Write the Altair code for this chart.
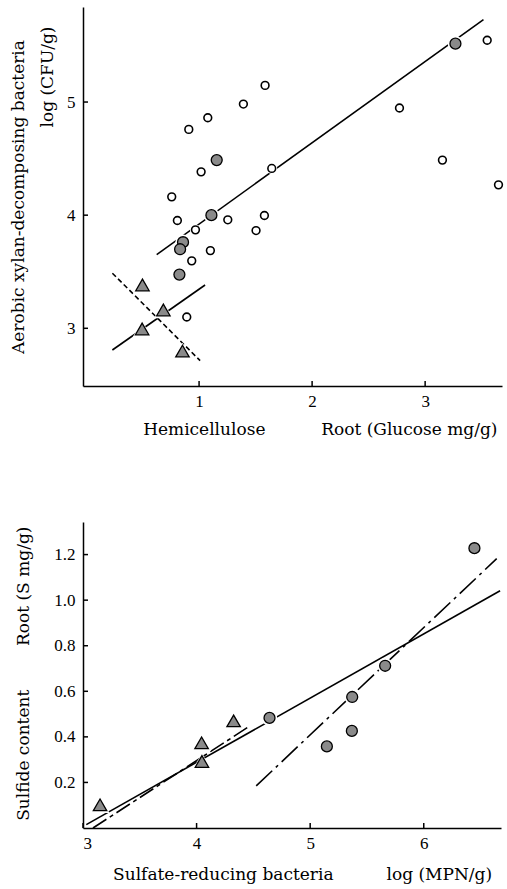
import altair as alt
import pandas as pd

# ---------------- top panel data ----------------
top_open_x = [1.584, 1.392, 1.077, 0.909, 1.018, 0.758, 0.808, 0.968, 1.254, 1.578,
              1.504, 1.100, 0.935, 1.643, 0.891, 2.773, 3.549, 3.153, 3.649]
top_open_y = [5.147, 4.982, 4.861, 4.758, 4.383, 4.162, 3.953, 3.870, 3.959, 3.997,
              3.864, 3.687, 3.596, 4.413, 3.100, 4.947, 5.546, 4.487, 4.268]
top_fill_x = [3.268, 1.156, 1.109, 0.858, 0.832, 0.826]
top_fill_y = [5.516, 4.487, 4.000, 3.761, 3.699, 3.475]
top_tri_x = [0.499, 0.684, 0.496, 0.853]
top_tri_y = [3.383, 3.162, 2.994, 2.799]

top_main_x = [0.625, 3.516]
top_main_y = [3.652, 5.729]
top_tri_up_x = [0.233, 1.053]
top_tri_up_y = [2.808, 3.383]
top_tri_down_x = [0.233, 1.009]
top_tri_down_y = [3.487, 2.714]

top_x_ticks = [1, 2, 3]
top_y_ticks = [3, 4, 5]

# ---------------- bottom panel data ----------------
bot_circ_x = [4.642, 5.147, 5.370, 5.367, 5.660, 6.446]
bot_circ_y = [0.483, 0.358, 0.575, 0.426, 0.712, 1.228]
bot_tri_x = [3.150, 4.047, 4.044, 4.326]
bot_tri_y = [0.102, 0.292, 0.374, 0.470]

bot_all_x = [3.029, 6.672]
bot_all_y = [0.015, 1.041]
bot_trifit_x = [3.088, 4.466]
bot_trifit_y = [0.000, 0.447]
bot_circfit_x = [4.525, 6.642]
bot_circfit_y = [0.185, 1.182]

bot_x_ticks = [3, 4, 5, 6]
bot_y_ticks = [0.2, 0.4, 0.6, 0.8, 1.0, 1.2]

FONT = "DejaVu Serif"
LABEL_FONT = "Liberation Serif"
GRAY = "#8a8a8a"


def df(xs, ys):
    return pd.DataFrame({"x": xs, "y": ys})


def panel(w, h, xscale, yscale, xticks, yticks, yfmt, lines, markers, texts):
    xax = alt.Axis(values=xticks, title=None, ticks=False, grid=False, format="d",
                   labelPadding=7, domainColor="black", domainWidth=1.5)
    yax = alt.Axis(values=yticks, title=None, ticks=False, grid=False, format=yfmt,
                   labelPadding=8, domainColor="black", domainWidth=1.5)
    X = lambda: alt.X("x:Q", scale=xscale, axis=xax)
    Y = lambda: alt.Y("y:Q", scale=yscale, axis=yax)
    layers = []
    # inward tick marks
    layers.append(
        alt.Chart(pd.DataFrame({"y": yticks})).mark_rule(color="black", strokeWidth=1.5)
        .encode(y=Y(), x=alt.value(0), x2=alt.value(5)))
    layers.append(
        alt.Chart(pd.DataFrame({"x": xticks})).mark_rule(color="black", strokeWidth=1.5)
        .encode(x=X(), y=alt.value(h), y2=alt.value(h - 5)))
    for xs, ys, dash in lines:
        kw = {"color": "black", "strokeWidth": 1.6}
        if dash:
            kw["strokeDash"] = dash
        layers.append(alt.Chart(df(xs, ys)).mark_line(**kw).encode(x=X(), y=Y()))
    # white halos
    for xs, ys, shape, size, fill, sw in markers:
        layers.append(alt.Chart(df(xs, ys)).mark_point(
            shape=shape, size=size * 2.0, filled=True, fill="white", opacity=1,
            strokeWidth=0).encode(x=X(), y=Y()))
    for xs, ys, shape, size, fill, sw in markers:
        layers.append(alt.Chart(df(xs, ys)).mark_point(
            shape=shape, size=size, filled=True, fill=fill, stroke="black",
            strokeWidth=sw, opacity=1).encode(x=X(), y=Y()))
    for txt, tx, ty, ang in texts:
        kw = dict(font=FONT, fontSize=17, color="black", align="center",
                  baseline="middle")
        if ang:
            kw["angle"] = ang
        layers.append(alt.Chart(alt.Data(values=[{"a": 0}])).mark_text(**kw).encode(
            x=alt.value(tx), y=alt.value(ty), text=alt.value(txt)))
    return alt.layer(*layers).properties(width=w, height=h)


top = panel(
    419, 379,
    alt.Scale(domain=[-0.027, 3.68], nice=False, zero=False),
    alt.Scale(domain=[2.49, 5.84], nice=False, zero=False),
    top_x_ticks, top_y_ticks, "d",
    [(top_main_x, top_main_y, None),
     (top_tri_up_x, top_tri_up_y, None),
     (top_tri_down_x, top_tri_down_y, [5, 3])],
    [(top_open_x, top_open_y, "circle", 60, "white", 1.6),
     (top_fill_x, top_fill_y, "circle", 120, GRAY, 1.3),
     (top_tri_x, top_tri_y, "triangle-up", 180, GRAY, 1.3)],
    [("Aerobic xylan-decomposing bacteria", -63.7, 190, 270),
     ("log (CFU/g)", -34.7, 70, 270),
     ("Hemicellulose", 121.3, 423, None),
     ("Root (Glucose mg/g)", 326.3, 423, None)],
)

bottom = panel(
    418, 306,
    alt.Scale(domain=[3, 6.68], nice=False, zero=False),
    alt.Scale(domain=[0, 1.343], nice=False, zero=False),
    bot_x_ticks, bot_y_ticks, ".1f",
    [(bot_all_x, bot_all_y, None),
     (bot_trifit_x, bot_trifit_y, [16, 4, 4, 4]),
     (bot_circfit_x, bot_circfit_y, [22, 5, 3, 5])],
    [(bot_circ_x, bot_circ_y, "circle", 120, GRAY, 1.3),
     (bot_tri_x, bot_tri_y, "triangle-up", 180, GRAY, 1.3)],
    [("Root (S mg/g)", -58.7, 64.3, 270),
     ("Sulfide content", -58.7, 233.3, 270),
     ("Sulfate-reducing bacteria", 140.3, 353.3, None),
     ("log (MPN/g)", 356.3, 353.3, None)],
)

chart = alt.vconcat(top, bottom, spacing=136, bounds="flush").properties(
    padding={"left": 10, "top": 7, "right": 0, "bottom": 0},
    background="white",
).configure_view(stroke=None).configure_axis(
    labelFont=LABEL_FONT, labelFontSize=17, labelColor="black"
)

chart.save("out.html", embed_options={"renderer": "svg", "actions": False})
